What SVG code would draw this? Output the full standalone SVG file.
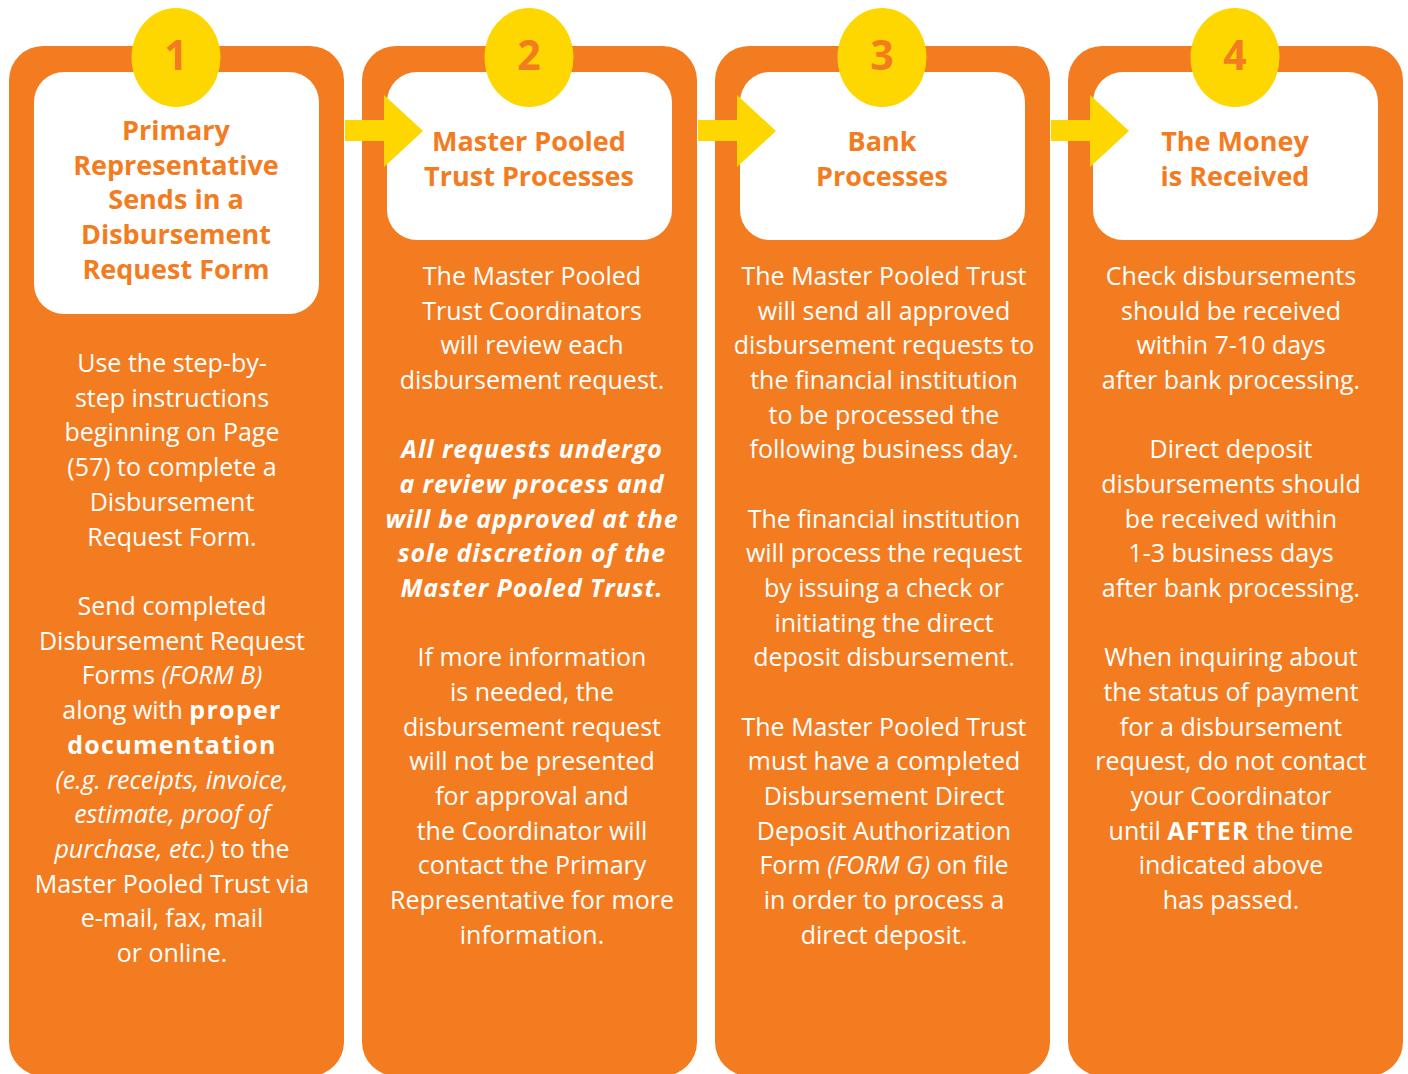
<svg xmlns="http://www.w3.org/2000/svg" width="1408" height="1074" viewBox="0 0 1408 1074">
<style>
.col{fill:#F37C21}
.box{fill:#FFFFFF}
.badge{fill:#FED700}
.num{font-family:"Open Sans","Liberation Sans",sans-serif;font-weight:bold;font-size:41px;fill:#F37C21;text-anchor:middle}
.head{font-family:"Open Sans","Liberation Sans",sans-serif;font-weight:bold;font-size:27px;fill:#F37C21;text-anchor:middle}
.body{font-family:"Open Sans","Liberation Sans",sans-serif;font-size:25px;fill:#FFFFFF;text-anchor:middle}
.b{font-weight:bold;letter-spacing:1.3px}
.i{font-style:italic}
.bi{font-weight:bold;font-style:italic;letter-spacing:0.9px}
.arrow{fill:#FED700}
</style>
<rect width="1408" height="1074" fill="#FFFFFF"/>

<g id="step1">
<rect class="col" x="9" y="46" width="335" height="1030" rx="34"/>
<rect class="box" x="34" y="72" width="285" height="242" rx="30"/>
<ellipse class="badge" cx="176" cy="57.5" rx="44.5" ry="49.5"/>
<text class="num" x="176" y="70">1</text>
<text class="head"><tspan x="176" y="140">Primary</tspan><tspan x="176" y="175">Representative</tspan><tspan x="176" y="209">Sends in a</tspan><tspan x="176" y="244">Disbursement</tspan><tspan x="176" y="279">Request Form</tspan></text>
<text class="body"><tspan x="172" y="372">Use the step-by-</tspan><tspan x="172" y="407">step instructions</tspan><tspan x="172" y="441">beginning on Page</tspan><tspan x="172" y="476">(57) to complete a</tspan><tspan x="172" y="511">Disbursement</tspan><tspan x="172" y="546">Request Form.</tspan><tspan x="172" y="615">Send completed</tspan><tspan x="172" y="650">Disbursement Request</tspan><tspan x="172" y="684">Forms <tspan class="i">(FORM B)</tspan></tspan><tspan x="172" y="719">along with <tspan class="b">proper</tspan></tspan><tspan x="172" y="754" class="b">documentation</tspan><tspan x="172" y="789" class="i">(e.g. receipts, invoice,</tspan><tspan x="172" y="823" class="i">estimate, proof of</tspan><tspan x="172" y="858"><tspan class="i">purchase, etc.)</tspan> to the</tspan><tspan x="172" y="893">Master Pooled Trust via</tspan><tspan x="172" y="927">e-mail, fax, mail</tspan><tspan x="172" y="962">or online.</tspan></text>
</g>

<g id="step2">
<rect class="col" x="362" y="46" width="335" height="1030" rx="34"/>
<rect class="box" x="387" y="72" width="285" height="168" rx="30"/>
<ellipse class="badge" cx="529" cy="57.5" rx="44.5" ry="49.5"/>
<text class="num" x="529" y="70">2</text>
<text class="head"><tspan x="529" y="151">Master Pooled</tspan><tspan x="529" y="186">Trust Processes</tspan></text>
<text class="body"><tspan x="532" y="285">The Master Pooled</tspan><tspan x="532" y="320">Trust Coordinators</tspan><tspan x="532" y="354">will review each</tspan><tspan x="532" y="389">disbursement request.</tspan><tspan x="532" y="458" class="bi">All requests undergo</tspan><tspan x="532" y="493" class="bi">a review process and</tspan><tspan x="532" y="528" class="bi">will be approved at the</tspan><tspan x="532" y="562" class="bi">sole discretion of the</tspan><tspan x="532" y="597" class="bi">Master Pooled Trust.</tspan><tspan x="532" y="666">If more information</tspan><tspan x="532" y="701">is needed, the</tspan><tspan x="532" y="736">disbursement request</tspan><tspan x="532" y="770">will not be presented</tspan><tspan x="532" y="805">for approval and</tspan><tspan x="532" y="840">the Coordinator will</tspan><tspan x="532" y="874">contact the Primary</tspan><tspan x="532" y="909">Representative for more</tspan><tspan x="532" y="944">information.</tspan></text>
</g>

<g id="step3">
<rect class="col" x="715" y="46" width="335" height="1030" rx="34"/>
<rect class="box" x="740" y="72" width="285" height="168" rx="30"/>
<ellipse class="badge" cx="882" cy="57.5" rx="44.5" ry="49.5"/>
<text class="num" x="882" y="70">3</text>
<text class="head"><tspan x="882" y="151">Bank</tspan><tspan x="882" y="186">Processes</tspan></text>
<text class="body"><tspan x="884" y="285">The Master Pooled Trust</tspan><tspan x="884" y="320">will send all approved</tspan><tspan x="884" y="354">disbursement requests to</tspan><tspan x="884" y="389">the financial institution</tspan><tspan x="884" y="424">to be processed the</tspan><tspan x="884" y="458">following business day.</tspan><tspan x="884" y="528">The financial institution</tspan><tspan x="884" y="562">will process the request</tspan><tspan x="884" y="597">by issuing a check or</tspan><tspan x="884" y="632">initiating the direct</tspan><tspan x="884" y="666">deposit disbursement.</tspan><tspan x="884" y="736">The Master Pooled Trust</tspan><tspan x="884" y="770">must have a completed</tspan><tspan x="884" y="805">Disbursement Direct</tspan><tspan x="884" y="840">Deposit Authorization</tspan><tspan x="884" y="874">Form <tspan class="i">(FORM G)</tspan> on file</tspan><tspan x="884" y="909">in order to process a</tspan><tspan x="884" y="944">direct deposit.</tspan></text>
</g>

<g id="step4">
<rect class="col" x="1068" y="46" width="335" height="1030" rx="34"/>
<rect class="box" x="1093" y="72" width="285" height="168" rx="30"/>
<ellipse class="badge" cx="1235" cy="57.5" rx="44.5" ry="49.5"/>
<text class="num" x="1235" y="70">4</text>
<text class="head"><tspan x="1235" y="151">The Money</tspan><tspan x="1235" y="186">is Received</tspan></text>
<text class="body"><tspan x="1231" y="285">Check disbursements</tspan><tspan x="1231" y="320">should be received</tspan><tspan x="1231" y="354">within 7-10 days</tspan><tspan x="1231" y="389">after bank processing.</tspan><tspan x="1231" y="458">Direct deposit</tspan><tspan x="1231" y="493">disbursements should</tspan><tspan x="1231" y="528">be received within</tspan><tspan x="1231" y="562">1-3 business days</tspan><tspan x="1231" y="597">after bank processing.</tspan><tspan x="1231" y="666">When inquiring about</tspan><tspan x="1231" y="701">the status of payment</tspan><tspan x="1231" y="736">for a disbursement</tspan><tspan x="1231" y="770">request, do not contact</tspan><tspan x="1231" y="805">your Coordinator</tspan><tspan x="1231" y="840">until <tspan class="b">AFTER</tspan> the time</tspan><tspan x="1231" y="874">indicated above</tspan><tspan x="1231" y="909">has passed.</tspan></text>
</g>

<g id="connectors">
<path class="arrow" d="M345,120 H384 V95 L423,131 L384,167 V141 H345 Z"/>
<path class="arrow" d="M698,120 H737 V95 L776,131 L737,167 V141 H698 Z"/>
<path class="arrow" d="M1051,120 H1090 V95 L1129,131 L1090,167 V141 H1051 Z"/>
</g>
</svg>
